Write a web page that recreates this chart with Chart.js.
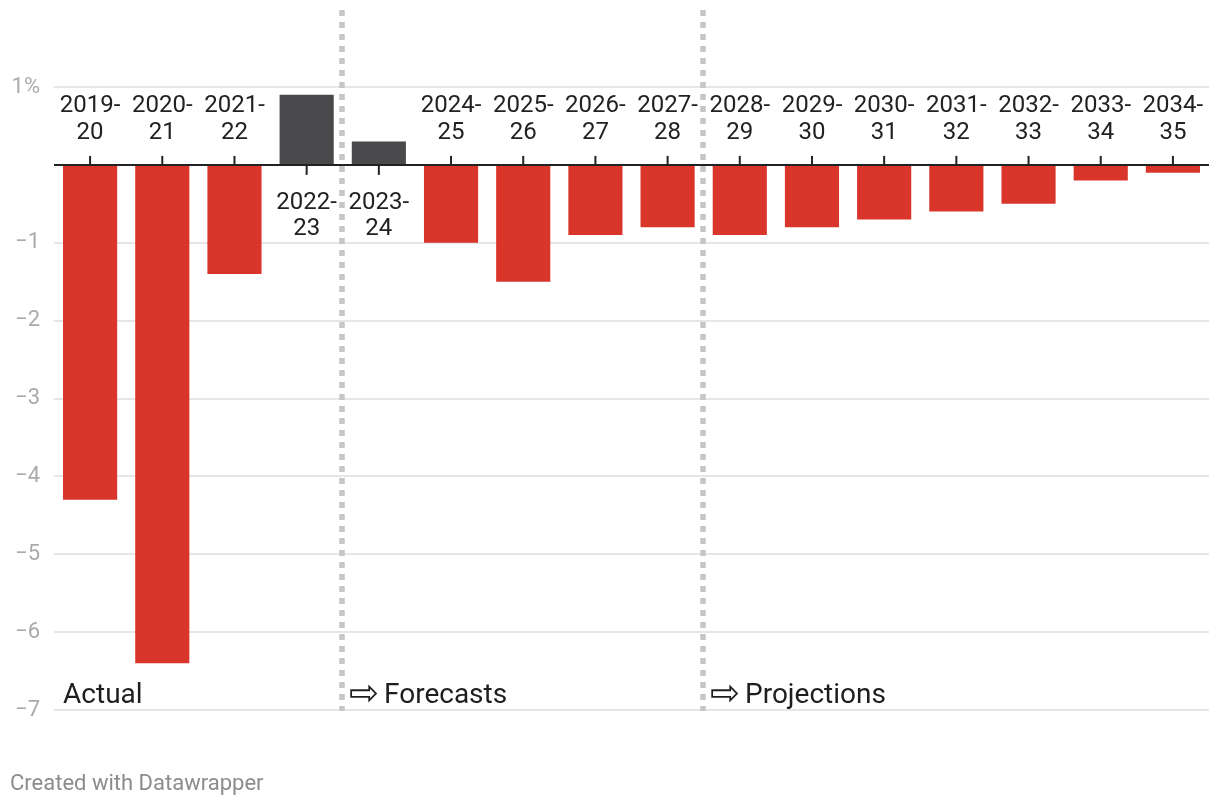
<!DOCTYPE html>
<html>
<head>
<meta charset="utf-8">
<script src="https://cdn.jsdelivr.net/npm/chart.js@4.4.1/dist/chart.umd.min.js"></script>
<style>
  html, body { margin: 0; padding: 0; background: #ffffff; }
  #wrap { width: 1220px; height: 806px; position: relative; }
</style>
</head>
<body>
<div id="wrap"><canvas id="c"></canvas></div>
<script>
// ---- data ----
const categories = ['2019-20','2020-21','2021-22','2022-23','2023-24','2024-25','2025-26','2026-27',
                    '2027-28','2028-29','2029-30','2030-31','2031-32','2032-33','2033-34','2034-35'];
const balance = [-4.3, -6.4, -1.4, 0.9, 0.3, -1.0, -1.5, -0.9, -0.8, -0.9, -0.8, -0.7, -0.6, -0.5, -0.2, -0.1];
const yTickValues = [1, 0, -1, -2, -3, -4, -5, -6, -7];
const yTickLabels = ['1%', '', '\u22121', '\u22122', '\u22123', '\u22124', '\u22125', '\u22126', '\u22127'];
const periodLabels = ['Actual', 'Forecasts', 'Projections'];
const periodArrows = ['', '\u21E8', '\u21E8'];
const periodStartIndex = [0, 4, 9];   // first category of each period
const footerText = 'Created with Datawrapper';

// ---- styles ----
const RED = '#d9352b';
const DARK = '#4a4a4c';
const FONT = "Roboto, 'DejaVu Sans', sans-serif";

const overlay = {
  id: 'overlay',
  afterDatasetsDraw(chart) {
    const ctx = chart.ctx;
    const x = chart.scales.x, y = chart.scales.y;
    const area = chart.chartArea;
    const y0 = y.getPixelForValue(0);
    ctx.save();

    // dotted separators between periods
    ctx.strokeStyle = '#c6c6c6';
    ctx.lineWidth = 5.5;
    ctx.setLineDash([6, 6]);
    periodStartIndex.slice(1).forEach(i => {
      const px = Math.round(x.getPixelForValue(i - 0.5)) - 1;
      ctx.beginPath();
      ctx.moveTo(px, 10);
      ctx.lineTo(px, area.bottom + 1);
      ctx.stroke();
    });
    ctx.setLineDash([]);

    // zero line
    ctx.strokeStyle = '#222222';
    ctx.lineWidth = 2;
    ctx.beginPath();
    ctx.moveTo(area.left, y0);
    ctx.lineTo(area.right, y0);
    ctx.stroke();

    // category ticks and labels
    ctx.font = '24px ' + FONT;
    ctx.fillStyle = '#222222';
    ctx.textAlign = 'center';
    ctx.textBaseline = 'alphabetic';
    categories.forEach((cat, i) => {
      const cx = x.getPixelForValue(i);
      const parts = [cat.slice(0, 5), cat.slice(5)];
      ctx.beginPath();
      ctx.lineWidth = 2;
      if (balance[i] < 0) {
        ctx.moveTo(cx, y0 - 9); ctx.lineTo(cx, y0);
        ctx.stroke();
        ctx.fillText(parts[0], cx, y0 - 53);
        ctx.fillText(parts[1], cx, y0 - 25.5);
      } else {
        ctx.moveTo(cx, y0); ctx.lineTo(cx, y0 + 10);
        ctx.stroke();
        ctx.fillText(parts[0], cx, y0 + 44);
        ctx.fillText(parts[1], cx, y0 + 70.5);
      }
    });

    // period annotations
    ctx.textAlign = 'left';
    ctx.fillStyle = '#1e1e1e';
    periodLabels.forEach((t, k) => {
      const i = periodStartIndex[k];
      if (k === 0) {
        ctx.font = '28px ' + FONT;
        ctx.fillText(t, x.getPixelForValue(i) - 27, 703);
      } else {
        const px = Math.round(x.getPixelForValue(i - 0.5)) - 1 + 8;
        ctx.font = "36px 'DejaVu Sans', sans-serif";
        ctx.fillText(periodArrows[k], px - 1, 705);
        ctx.font = '28px ' + FONT;
        ctx.fillText(t, px + 34, 703);
      }
    });

    // footer
    ctx.font = '22px ' + FONT;
    ctx.fillStyle = '#8c8c8c';
    ctx.fillText(footerText, 10, 790);
    ctx.restore();
  }
};

new Chart(document.getElementById('c'), {
  type: 'bar',
  data: {
    labels: categories,
    datasets: [{
      data: balance,
      backgroundColor: balance.map(v => v < 0 ? RED : DARK),
      borderWidth: 0,
      barPercentage: 0.75,
      categoryPercentage: 1.0
    }]
  },
  options: {
    responsive: true,
    maintainAspectRatio: false,
    animation: false,
    devicePixelRatio: 1,
    layout: { padding: { left: 0, right: 11, top: 87, bottom: 96 } },
    plugins: { legend: { display: false }, tooltip: { enabled: false } },
    scales: {
      x: { display: false, offset: true, grid: { display: false } },
      y: {
        min: -7, max: 1,
        afterFit(scale) { scale.width = 54; },
        afterBuildTicks(scale) { scale.ticks = yTickValues.map(v => ({ value: v })); },
        border: { display: false },
        grid: {
          drawTicks: false,
          lineWidth: 2,
          color: c => (c.tick && c.tick.value === 0) ? 'rgba(0,0,0,0)' : '#e6e6e6'
        },
        ticks: {
          padding: 14,
          color: '#aaaaaa',
          font: { family: FONT, size: 22 },
          callback: (v) => yTickLabels[yTickValues.indexOf(v)]
        }
      }
    }
  },
  plugins: [overlay]
});
</script>
</body>
</html>
